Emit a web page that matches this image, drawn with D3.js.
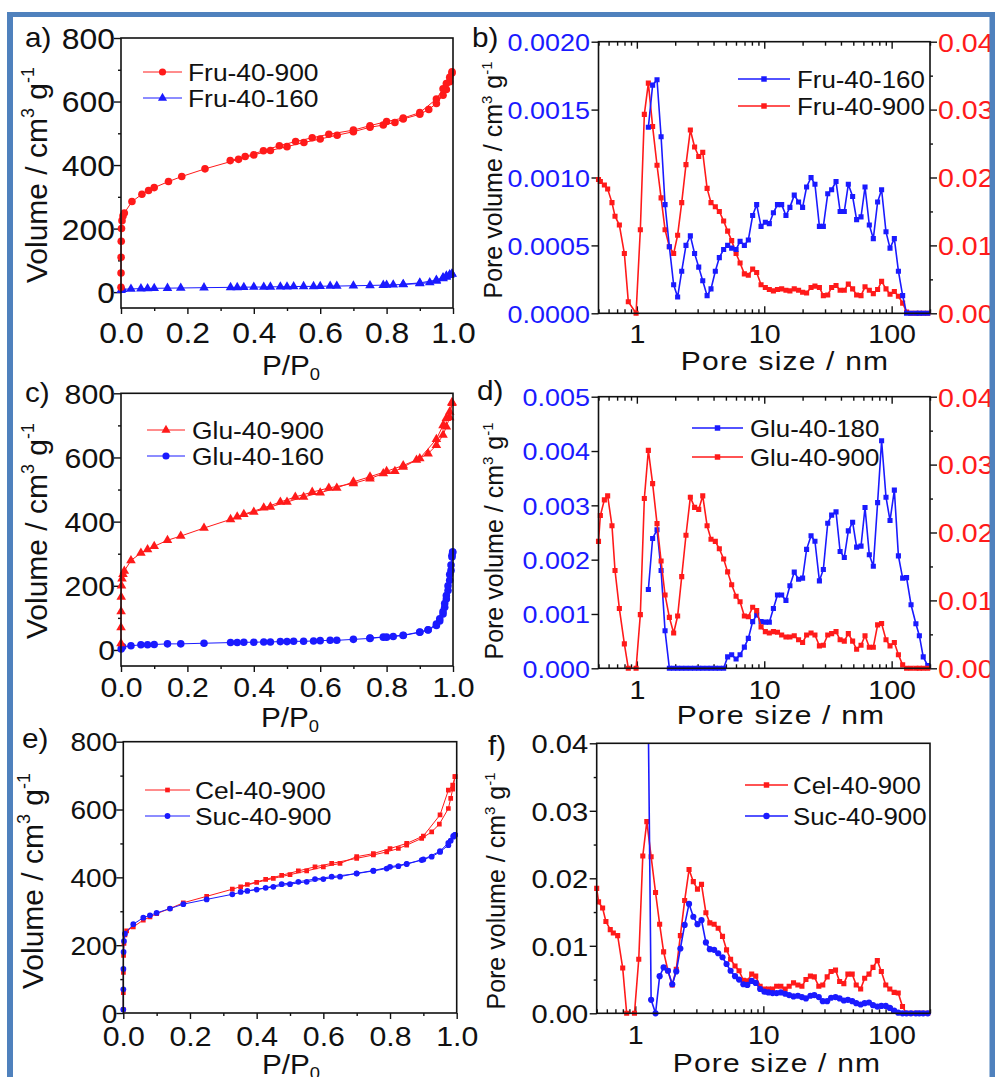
<!DOCTYPE html>
<html>
<head>
<meta charset="utf-8">
<script src="https://cdn.jsdelivr.net/npm/d3@7"></script>
<style>
body { margin: 0; background: #fff; }
text { font-family: "Liberation Sans", Arial, sans-serif; }
</style>
</head>
<body>
<div id="fig"></div>
<script>
// ---- isotherm data: [P/P0, volume cm3/g] ----
var fru900Ads = [[0.00002,15],[0.0001,60],[0.0003,110],[0.0007,160],[0.0015,200],[0.003,225],[0.006,240],[0.01,249],[0.033,285],[0.063,308],[0.083,320],[0.10,329],[0.143,348],[0.183,364],[0.253,388],[0.354,418],[0.40,432],[0.45,446],[0.50,458],[0.551,471],[0.60,482],[0.651,494],[0.70,505],[0.75,519],[0.79,526],[0.825,534],[0.85,545],[0.90,560],[0.927,575],[0.95,594],[0.97,620],[0.98,638],[0.99,662],[0.997,690]];
var fru900Des = [[0.997,694],[0.99,676],[0.98,657],[0.97,640],[0.95,608],[0.90,565],[0.85,548],[0.80,537],[0.75,524],[0.70,510],[0.626,497],[0.576,486],[0.526,474],[0.477,461],[0.429,445],[0.374,427],[0.329,414]];
var fru160Ads = [[0.0005,6],[0.005,9],[0.03,10],[0.06,11],[0.08,11.5],[0.10,12],[0.14,12.5],[0.18,13],[0.25,14],[0.33,15],[0.35,15],[0.37,15.5],[0.40,16],[0.43,16],[0.45,16.5],[0.48,17],[0.50,17],[0.52,17.5],[0.55,18],[0.58,18],[0.60,18.5],[0.63,19],[0.65,19],[0.70,20],[0.75,21],[0.79,22],[0.80,22.5],[0.82,23],[0.85,24],[0.90,27],[0.93,30],[0.95,35],[0.97,43],[0.98,48],[0.99,53],[0.997,57]];
var fru160Des = [[0.997,58],[0.99,55],[0.98,51],[0.97,46],[0.95,38],[0.90,29],[0.85,25]];

var glu900Ads = [[0.00002,20],[0.0001,70],[0.0003,120],[0.0007,165],[0.0015,200],[0.003,222],[0.006,236],[0.01,246],[0.03,279],[0.06,302],[0.08,313],[0.10,323],[0.14,342],[0.18,355],[0.25,380],[0.33,407],[0.37,423],[0.43,443],[0.48,461],[0.525,477],[0.576,492],[0.626,505],[0.70,519],[0.75,534],[0.79,550],[0.825,557],[0.85,570],[0.89,592],[0.925,612],[0.95,638],[0.97,670],[0.98,696],[0.99,725],[0.997,769]];
var glu900Des = [[0.997,772],[0.99,742],[0.98,722],[0.97,700],[0.95,657],[0.90,597],[0.85,575],[0.80,557],[0.75,540],[0.70,524],[0.65,505],[0.60,490],[0.55,477],[0.50,461],[0.45,446],[0.40,430],[0.35,415]];
var glu160Ads = [[0.0005,3],[0.005,10],[0.03,13],[0.06,16],[0.08,16],[0.10,17],[0.14,19],[0.18,19],[0.25,21],[0.33,23],[0.35,23],[0.37,24],[0.40,24],[0.43,25],[0.45,25],[0.48,26],[0.50,26],[0.52,27],[0.55,27],[0.58,28],[0.60,29],[0.63,30],[0.65,30],[0.70,33],[0.75,36],[0.79,40],[0.80,40],[0.82,42],[0.85,45],[0.90,55],[0.925,62],[0.95,76],[0.96,90],[0.97,112],[0.975,133],[0.98,159],[0.985,185],[0.99,217],[0.994,248],[0.997,290],[0.999,305]];
var glu160Des = [[0.999,305],[0.997,295],[0.994,265],[0.99,235],[0.985,200],[0.98,170],[0.975,145],[0.97,120],[0.96,97],[0.95,81],[0.925,63],[0.90,56],[0.85,46],[0.75,37]];

var cel900Ads = [[0.00002,10],[0.0001,60],[0.0003,120],[0.0008,170],[0.002,205],[0.005,230],[0.01,242],[0.03,254],[0.06,274],[0.08,283],[0.10,293],[0.14,308],[0.18,325],[0.25,344],[0.327,365],[0.372,379],[0.427,394],[0.475,406],[0.525,419],[0.575,431],[0.625,441],[0.70,456],[0.75,466],[0.79,475],[0.825,485],[0.85,495],[0.895,515],[0.925,534],[0.948,557],[0.975,603],[0.982,633],[0.988,660],[0.995,697]];
var cel900Des = [[0.995,697],[0.988,672],[0.975,657],[0.95,584],[0.90,522],[0.85,500],[0.80,485],[0.75,470],[0.70,461],[0.65,441],[0.60,431],[0.55,419],[0.50,408],[0.45,397],[0.40,385],[0.352,372]];
var suc900Ads = [[0.00002,10],[0.0001,70],[0.0003,130],[0.0008,180],[0.002,212],[0.005,234],[0.03,262],[0.06,281],[0.08,288],[0.10,295],[0.14,308],[0.18,321],[0.25,335],[0.327,350],[0.372,360],[0.427,369],[0.475,380],[0.525,387],[0.575,395],[0.625,402],[0.70,411],[0.75,419],[0.79,426],[0.825,433],[0.85,439],[0.895,451],[0.925,461],[0.95,475],[0.975,495],[0.982,508],[0.99,520],[0.995,525]];
var suc900Des = [[0.995,525],[0.99,522],[0.975,502],[0.95,477],[0.90,453],[0.85,440],[0.80,431],[0.75,420],[0.70,412],[0.65,402],[0.60,395],[0.55,387],[0.50,380],[0.45,372],[0.40,364],[0.352,357]];

// ---- pore size distribution: shared pore size grid (nm) ----
var poreSize = [0.5,0.517,0.556,0.59,0.638,0.674,0.729,0.798,0.857,0.92,
  0.986,1.065,1.145,1.231,1.33,1.44,1.55,1.665,1.8,1.945,
  2.09,2.25,2.43,2.63,2.84,3.06,3.29,3.56,3.82,4.13,
  4.44,4.8,5.16,5.55,6.01,6.46,6.98,7.5,8.11,8.72,
  9.44,10.2,10.96,11.8,12.7,13.7,14.8,15.9,17.2,18.6,
  20,21.5,23.3,25,27.1,29.1,31.5,33.8,36.6,39.4,
  42.5,45.7,49.4,53.1,57.5,61.8,66.8,71.8,77.6,83.4,
  90.3,97.1,105,113,122,131,142,155,165,177,
  192];

var fru900PV = [0.0197,0.0194,0.0189,0.0183,0.0163,0.0143,0.0130,0.0088,0.0017,null,
  0,0.0123,0.0293,0.0339,0.0275,0.0218,0.0170,0.0123,0.0098,0.0088,
  0.0115,0.0163,0.0219,0.0270,0.0245,0.0231,0.0237,0.0184,0.0163,0.0157,
  0.0150,0.0136,0.0121,0.0107,0.0088,0.0074,0.0058,0.0056,0.0065,0.0060,
  0.0042,0.0038,0.0035,0.0033,0.0035,0.0036,0.0034,0.0033,0.0036,0.0034,
  0.0031,0.0030,0.0038,0.0040,0.0038,0.0026,0.0027,0.0038,0.0041,0.0034,
  0.0034,0.0043,0.0036,0.0027,0.0026,0.0039,0.0034,0.0029,0.0035,0.0047,
  0.0036,0.0028,0.0032,0.0025,0.0015,0.0002,0,0,0,0,
  0];
var fru160PV = [null,null,null,null,null,null,null,null,null,null,
  null,null,null,0.00137,0.00168,0.00172,0.00130,0.00080,0.00049,0.00021,
  0.00012,0.00031,0.00050,0.00057,0.00044,0.00034,0.00024,0.00013,0.00018,0.00031,
  0.00041,0.00047,0.00050,0.00048,0.00047,0.00053,0.00050,0.00054,0.00072,0.00080,
  0.00064,0.00067,0.00066,0.00074,0.00080,0.00080,0.00072,0.00078,0.00087,0.00082,
  0.00078,0.00093,0.00100,0.00095,0.00064,0.00064,0.00088,0.00091,0.00097,0.00075,
  0.00075,0.00095,0.00086,0.00069,0.00071,0.00093,0.00065,0.00055,0.00082,0.00091,
  0.00060,0.00048,0.00055,0.00031,0.00013,0,0,0,0,0,
  0];
var glu900PV = [0.0187,0.0225,0.0248,0.0254,0.0210,0.0144,0.0088,0.0036,0,null,
  0,0.0079,0.0250,0.0321,0.0272,0.0213,0.0158,0.0108,0.0075,0.0052,
  0.0077,0.0135,0.0196,0.0252,0.0237,0.0234,0.0254,0.0210,0.0190,0.0187,
  0.0176,0.0161,0.0142,0.0123,0.0106,0.0098,0.0077,0.0076,0.0090,0.0085,
  0.0061,0.0054,0.0052,0.0054,0.0053,0.0049,0.0046,0.0046,0.0048,0.0042,
  0.0038,0.0049,0.0052,0.0049,0.0033,0.0034,0.0049,0.0051,0.0054,0.0042,
  0.0040,0.0051,0.0040,0.0028,0.0034,0.0048,0.0031,0.0031,0.0064,0.0066,
  0.0042,0.0033,0.0038,0.0020,0.0005,0,0,0,0,0,
  0];
var glu180PV = [null,null,null,null,null,null,null,null,null,null,
  null,null,null,0.00145,0.00239,0.00255,0.00180,0.00069,0,0,
  0,0,0,0,0,0,0,0,0,0,
  0,0,0.00021,0.00025,0.00017,0.00025,0.00039,0.00055,0.00086,0.00098,
  0.00086,0.00085,0.00085,0.00110,0.00135,0.00135,0.00125,0.00152,0.00177,0.00164,
  0.00166,0.00219,0.00244,0.00234,0.00161,0.00182,0.00267,0.00282,0.00288,0.00215,
  0.00204,0.00253,0.00269,0.00223,0.00225,0.00296,0.00209,0.00188,0.00305,0.00419,
  0.00315,0.00272,0.00328,0.00207,0.00166,0.00167,0.00117,0.00082,0.00060,0.00021,
  0.00005];
var cel900PV = [0.0185,0.0165,0.0156,0.0136,0.0124,0.0119,0.0115,0.0067,0,null,
  0,0.0080,0.0233,0.0284,0.0232,0.0179,0.0132,0.0091,0.0063,0.0042,
  0.0065,0.0115,0.0167,0.0213,0.0195,0.0184,0.0191,0.0149,0.0134,0.0132,
  0.0126,0.0114,0.0094,0.0080,0.0070,0.0063,0.0049,0.0048,0.0058,0.0055,
  0.0040,0.0036,0.0036,0.0036,0.0040,0.0040,0.0036,0.0040,0.0045,0.0042,
  0.0040,0.0050,0.0055,0.0054,0.0040,0.0042,0.0054,0.0062,0.0064,0.0047,
  0.0044,0.0058,0.0058,0.0042,0.0036,0.0052,0.0058,0.0068,0.0078,0.0062,
  0.0042,0.0036,0.0031,0.0030,0.0010,0,0,0,0,0,
  0];
var suc900PV = [null,null,null,null,null,null,null,null,null,null,
  null,null,null,0.065,0.0020,0,0.0055,0.0068,0.0063,0.0043,
  0.0062,0.0096,0.0131,0.0162,0.0143,0.0132,0.0138,0.0105,0.0095,0.0094,
  0.0089,0.0083,0.0073,0.0063,0.0055,0.0050,0.0043,0.0042,0.0048,0.0045,
  0.0036,0.0032,0.0031,0.0030,0.0030,0.0031,0.0029,0.0027,0.0025,0.0026,
  0.0024,0.0022,0.0026,0.0027,0.0024,0.0018,0.0018,0.0023,0.0024,0.0022,
  0.0019,0.0020,0.0018,0.0015,0.0013,0.0015,0.0016,0.0012,0.0010,0.0011,
  0.0011,0.0008,0.0004,0.0001,0,0,0,0,0,0,
  0];

// ---- tick values ----
var isoXTicks = [0, 0.2, 0.4, 0.6, 0.8, 1.0];
var isoXMinor = [0.1, 0.3, 0.5, 0.7, 0.9];
var isoYTicks = [0, 200, 400, 600, 800];
var isoYMinor = [100, 300, 500, 700];
var poreXTicks = [1, 10, 100];
var poreXMinor = [0.5,0.6,0.7,0.8,0.9,2,3,4,5,6,7,8,9,20,30,40,50,60,70,80,90,200];
var rightTicks = [0, 0.01, 0.02, 0.03, 0.04];
var rightMinor = [0.005, 0.015, 0.025, 0.035];

var RED = "#ff1a1a", BLUE = "#1a1aff", INK = "#111";
var SX = 1.1; // the figure is slightly stretched horizontally

var svg = d3.select("#fig").append("svg")
    .attr("width", 995)
    .attr("height", 1077);
svg.append("rect").attr("width", 995).attr("height", 1077).attr("fill", "#fff");

function addText(x, y, str, size, anchor, color, sx) {
    return svg.append("text")
        .attr("transform", `translate(${x},${y}) scale(${sx || SX},1)`)
        .attr("text-anchor", anchor || "start")
        .attr("fill", color || INK)
        .style("font-size", size + "px")
        .text(str);
}

function fmtAxis(g) {
    g.select(".domain").remove();
    g.attr("font-family", null).attr("font-size", null);
    g.selectAll(".tick line").attr("stroke", INK).attr("stroke-width", 1.4);
}

function yTitle(x, y, size, main) {
    var t = svg.append("text")
        .attr("transform", `translate(${x},${y}) rotate(-90)`)
        .attr("text-anchor", "middle")
        .attr("fill", INK)
        .style("font-size", size + "px");
    t.append("tspan").text(main + " / cm");
    t.append("tspan").attr("dy", -size * 0.42).style("font-size", (size * 0.6) + "px").text("3");
    t.append("tspan").attr("dy", size * 0.42).text(" g");
    t.append("tspan").attr("dy", -size * 0.42).style("font-size", (size * 0.6) + "px").text("-1");
}

function ppTitle(x, y, size) {
    var t = addText(x, y, null, size, "middle");
    t.append("tspan").text("P/P");
    t.append("tspan").attr("dy", size * 0.2).style("font-size", (size * 0.62) + "px").text("0");
}

var clipCount = 0;
function clipFor(p, pad) {
    var id = "clip" + (clipCount++);
    svg.append("clipPath").attr("id", id).append("rect")
        .attr("x", p.left - pad).attr("y", p.top)
        .attr("width", p.right - p.left + 2 * pad)
        .attr("height", p.bottom - p.top + pad);
    return svg.append("g").attr("clip-path", `url(#${id})`);
}

function drawLegend(p, lw) {
    p.legend.forEach(function(l, i) {
        var ly = p.legY[i];
        svg.append("line")
            .attr("x1", p.legX[0]).attr("x2", p.legX[1])
            .attr("y1", ly).attr("y2", ly)
            .attr("stroke", l.color).attr("stroke-width", lw);
        svg.append("path")
            .attr("transform", `translate(${(p.legX[0] + p.legX[1]) / 2},${ly})`)
            .attr("d", d3.symbol().type(l.symbol).size(l.size)())
            .attr("fill", l.color);
        addText(p.legTextX, ly + 8.5, l.name, p.legFont);
    });
}

// ---------- isotherm panels ----------
function isoPanel(p) {
    var x = d3.scaleLinear().domain([0, 1]).range([p.left, p.right]);
    var y = d3.scaleLinear().domain(p.yDomain).range([p.bottom, p.top]);

    svg.append("g").attr("transform", `translate(0,${p.bottom})`)
        .call(d3.axisBottom(x).tickValues(isoXMinor).tickSize(3).tickFormat(""))
        .call(fmtAxis);
    var xa = svg.append("g").attr("transform", `translate(0,${p.bottom})`)
        .call(d3.axisBottom(x).tickValues(isoXTicks).tickSize(6).tickFormat(d3.format(".1f")))
        .call(fmtAxis);
    xa.selectAll(".tick text")
        .attr("y", p.xLabDy).attr("dy", null)
        .attr("transform", `scale(${SX},1)`)
        .attr("fill", INK).style("font-size", p.xFont + "px");

    svg.append("g").attr("transform", `translate(${p.left},0)`)
        .call(d3.axisLeft(y).tickValues(isoYMinor).tickSize(3).tickFormat(""))
        .call(fmtAxis);
    var ya = svg.append("g").attr("transform", `translate(${p.left},0)`)
        .call(d3.axisLeft(y).tickValues(isoYTicks).tickSize(7).tickFormat(d3.format("d")))
        .call(fmtAxis);
    ya.selectAll(".tick text")
        .attr("x", -6 / SX).attr("dy", "0.36em")
        .attr("transform", `scale(${SX},1)`)
        .attr("fill", INK).style("font-size", p.yFont + "px");

    var plot = clipFor(p, 5);
    var line = d3.line().x(d => x(d[0])).y(d => y(d[1]));
    p.series.forEach(function(s) {
        var pts = s.ads.concat(s.des);
        plot.append("path").datum(pts)
            .attr("fill", "none").attr("stroke", s.color).attr("stroke-width", 1)
            .attr("d", line);
        plot.selectAll(null).data(pts).enter().append("path")
            .attr("transform", d => `translate(${x(d[0])},${y(d[1])})`)
            .attr("d", d3.symbol().type(s.symbol).size(s.size)())
            .attr("fill", s.color);
    });

    svg.append("rect")
        .attr("x", p.left).attr("y", p.top)
        .attr("width", p.right - p.left).attr("height", p.bottom - p.top)
        .attr("fill", "none").attr("stroke", INK).attr("stroke-width", 1.6);

    drawLegend(p, 1);
    addText(p.tag[0], p.tag[1], p.tagText, 27);
    ppTitle(p.xTitle[0], p.xTitle[1], 27);
    yTitle(p.yTitle[0], p.yTitle[1], 30, "Volume");
}

// ---------- pore size panels ----------
function porePanel(p) {
    var x = d3.scaleLog().domain([0.5, 200]).range([p.left, p.right]);
    var yL = d3.scaleLinear().domain([0, p.leftMax]).range([p.bottom, p.top]);
    var yR = d3.scaleLinear().domain([0, 0.04]).range([p.bottom, p.top]);

    svg.append("g").attr("transform", `translate(0,${p.bottom})`)
        .call(d3.axisBottom(x).tickValues(poreXMinor).tickSize(-4).tickFormat(""))
        .call(fmtAxis);
    var xa = svg.append("g").attr("transform", `translate(0,${p.bottom})`)
        .call(d3.axisBottom(x).tickValues(poreXTicks).tickSize(-7).tickFormat(d3.format("d")))
        .call(fmtAxis);
    xa.selectAll(".tick text")
        .attr("y", p.xLabDy).attr("dy", null)
        .attr("transform", `scale(${SX},1)`)
        .attr("fill", INK).style("font-size", "26px");
    if (p.topTicks) {
        svg.append("g").attr("transform", `translate(0,${p.top})`)
            .call(d3.axisTop(x).tickValues(poreXMinor).tickSize(-4).tickFormat(""))
            .call(fmtAxis);
        svg.append("g").attr("transform", `translate(0,${p.top})`)
            .call(d3.axisTop(x).tickValues(poreXTicks).tickSize(-7).tickFormat(""))
            .call(fmtAxis);
    }

    if (p.leftMinor) {
        svg.append("g").attr("transform", `translate(${p.left},0)`)
            .call(d3.axisLeft(yL).tickValues(p.leftMinor).tickSize(3).tickFormat(""))
            .call(fmtAxis);
    }
    var ya = svg.append("g").attr("transform", `translate(${p.left},0)`)
        .call(d3.axisLeft(yL).tickValues(p.leftTicks).tickSize(7).tickFormat(d3.format(p.leftFmt)))
        .call(fmtAxis);
    ya.selectAll(".tick text")
        .attr("x", -8.5 / SX).attr("dy", "0.36em")
        .attr("transform", `scale(${SX},1)`)
        .attr("fill", p.leftColor).style("font-size", p.leftFont + "px");

    if (p.rightAxis) {
        svg.append("g").attr("transform", `translate(${p.right},0)`)
            .call(d3.axisRight(yR).tickValues(rightMinor).tickSize(3).tickFormat(""))
            .call(fmtAxis);
        var ra = svg.append("g").attr("transform", `translate(${p.right},0)`)
            .call(d3.axisRight(yR).tickValues(rightTicks).tickSize(7).tickFormat(d3.format(".2f")))
            .call(fmtAxis);
        ra.selectAll(".tick text")
            .attr("x", 8 / SX).attr("dy", "0.36em")
            .attr("transform", `scale(${SX},1)`)
            .attr("fill", RED).style("font-size", "26px");
    }

    var plot = clipFor(p, 4);
    p.series.forEach(function(s) {
        var ys = s.axis === "right" ? yR : yL;
        var pts = poreSize.map((d, i) => [d, s.values[i]]).filter(q => q[1] != null);
        plot.append("path").datum(pts)
            .attr("fill", "none").attr("stroke", s.color).attr("stroke-width", 1.6)
            .attr("d", d3.line().x(d => x(d[0])).y(d => ys(d[1])));
        plot.selectAll(null).data(pts).enter().append("path")
            .attr("transform", d => `translate(${x(d[0])},${ys(d[1])})`)
            .attr("d", d3.symbol().type(s.symbol).size(s.size)())
            .attr("fill", s.color);
    });

    svg.append("rect")
        .attr("x", p.left).attr("y", p.top)
        .attr("width", p.right - p.left).attr("height", p.bottom - p.top)
        .attr("fill", "none").attr("stroke", INK).attr("stroke-width", 1.6);

    drawLegend(p, 1.6);
    addText(p.tag[0], p.tag[1], p.tagText, 27);
    addText(p.xTitle[0], p.xTitle[1], "Pore size / nm", 25, "middle", INK, 1.2)
        .style("letter-spacing", "1px");
    yTitle(p.yTitle[0], p.yTitle[1], 25, "Pore volume");
}

var C = d3.symbolCircle, T = d3.symbolTriangle, S = d3.symbolSquare;

isoPanel({
    left: 121, right: 453, top: 38, bottom: 308, yDomain: [-50, 800],
    xLabDy: 35, xFont: 29, yFont: 29,
    series: [
        { ads: fru160Ads, des: fru160Des, color: BLUE, symbol: T, size: 40 },
        { ads: fru900Ads, des: fru900Des, color: RED, symbol: C, size: 45 }
    ],
    legend: [
        { name: "Fru-40-900", color: RED, symbol: C, size: 40 },
        { name: "Fru-40-160", color: BLUE, symbol: T, size: 36 }
    ],
    legX: [143, 182], legY: [72, 98], legTextX: 188, legFont: 24,
    tag: [25, 47], tagText: "a)", xTitle: [291, 375], yTitle: [47, 175]
});

porePanel({
    left: 598.5, right: 930, top: 41.7, bottom: 313.3, xLabDy: 30, topTicks: true,
    leftMax: 0.002, leftTicks: [0, 0.0005, 0.001, 0.0015, 0.002], leftFmt: ".4f",
    leftColor: BLUE, leftFont: 24.5, rightAxis: true,
    series: [
        { values: fru900PV, axis: "right", color: RED, symbol: S, size: 26 },
        { values: fru160PV, axis: "left", color: BLUE, symbol: S, size: 26 }
    ],
    legend: [
        { name: "Fru-40-160", color: BLUE, symbol: S, size: 30 },
        { name: "Fru-40-900", color: RED, symbol: S, size: 30 }
    ],
    legX: [738, 790], legY: [79, 106], legTextX: 797, legFont: 23.5,
    tag: [472, 47], tagText: "b)", xTitle: [785, 370], yTitle: [502, 180]
});

isoPanel({
    left: 121, right: 453, top: 393.3, bottom: 666, yDomain: [-50, 800],
    xLabDy: 31, xFont: 27.5, yFont: 27.5,
    series: [
        { ads: glu160Ads, des: glu160Des, color: BLUE, symbol: C, size: 45 },
        { ads: glu900Ads, des: glu900Des, color: RED, symbol: T, size: 40 }
    ],
    legend: [
        { name: "Glu-40-900", color: RED, symbol: T, size: 36 },
        { name: "Glu-40-160", color: BLUE, symbol: C, size: 40 }
    ],
    legX: [147, 185], legY: [430, 456], legTextX: 192, legFont: 24,
    tag: [25, 402], tagText: "c)", xTitle: [290, 727], yTitle: [47, 531]
});

porePanel({
    left: 598.5, right: 930, top: 396.7, bottom: 668.3, xLabDy: 31, topTicks: true,
    leftMax: 0.005, leftTicks: [0, 0.001, 0.002, 0.003, 0.004, 0.005], leftFmt: ".3f",
    leftColor: BLUE, leftFont: 24.5, rightAxis: true,
    series: [
        { values: glu180PV, axis: "left", color: BLUE, symbol: S, size: 26 },
        { values: glu900PV, axis: "right", color: RED, symbol: S, size: 26 }
    ],
    legend: [
        { name: "Glu-40-180", color: BLUE, symbol: S, size: 30 },
        { name: "Glu-40-900", color: RED, symbol: S, size: 30 }
    ],
    legX: [692, 743], legY: [428, 457], legTextX: 750, legFont: 23.5,
    tag: [477, 400], tagText: "d)", xTitle: [781, 724], yTitle: [503, 541]
});

isoPanel({
    left: 123.3, right: 456.7, top: 741.7, bottom: 1013, yDomain: [0, 800],
    xLabDy: 33, xFont: 27.5, yFont: 25.5,
    series: [
        { ads: cel900Ads, des: cel900Des, color: RED, symbol: S, size: 22 },
        { ads: suc900Ads, des: suc900Des, color: BLUE, symbol: C, size: 26 }
    ],
    legend: [
        { name: "Cel-40-900", color: RED, symbol: S, size: 22 },
        { name: "Suc-40-900", color: BLUE, symbol: C, size: 26 }
    ],
    legX: [145, 190], legY: [790, 816], legTextX: 195, legFont: 24,
    tag: [22, 748], tagText: "e)", xTitle: [291, 1074], yTitle: [43, 881]
});

porePanel({
    left: 596.7, right: 930, top: 743.3, bottom: 1013.3, xLabDy: 31, topTicks: false,
    leftMax: 0.04, leftTicks: [0, 0.01, 0.02, 0.03, 0.04], leftMinor: [0.005, 0.015, 0.025, 0.035],
    leftFmt: ".2f", leftColor: INK, leftFont: 26.5, rightAxis: false,
    series: [
        { values: cel900PV, axis: "left", color: RED, symbol: S, size: 26 },
        { values: suc900PV, axis: "left", color: BLUE, symbol: C, size: 30 }
    ],
    legend: [
        { name: "Cel-40-900", color: RED, symbol: S, size: 30 },
        { name: "Suc-40-900", color: BLUE, symbol: C, size: 32 }
    ],
    legX: [745, 788], legY: [785, 816], legTextX: 793, legFont: 23.5,
    tag: [488, 755], tagText: "f)", xTitle: [777, 1072], yTitle: [505, 891]
});

// blue frame around the whole figure (open at the bottom)
var BORDER = "#4f81bd";
svg.append("rect").attr("x", 7).attr("y", 12).attr("width", 6).attr("height", 1065).attr("fill", BORDER);
svg.append("rect").attr("x", 7).attr("y", 12).attr("width", 988).attr("height", 5).attr("fill", BORDER);
svg.append("rect").attr("x", 989.5).attr("y", 12).attr("width", 5.5).attr("height", 1065).attr("fill", BORDER);
</script>
</body>
</html>
